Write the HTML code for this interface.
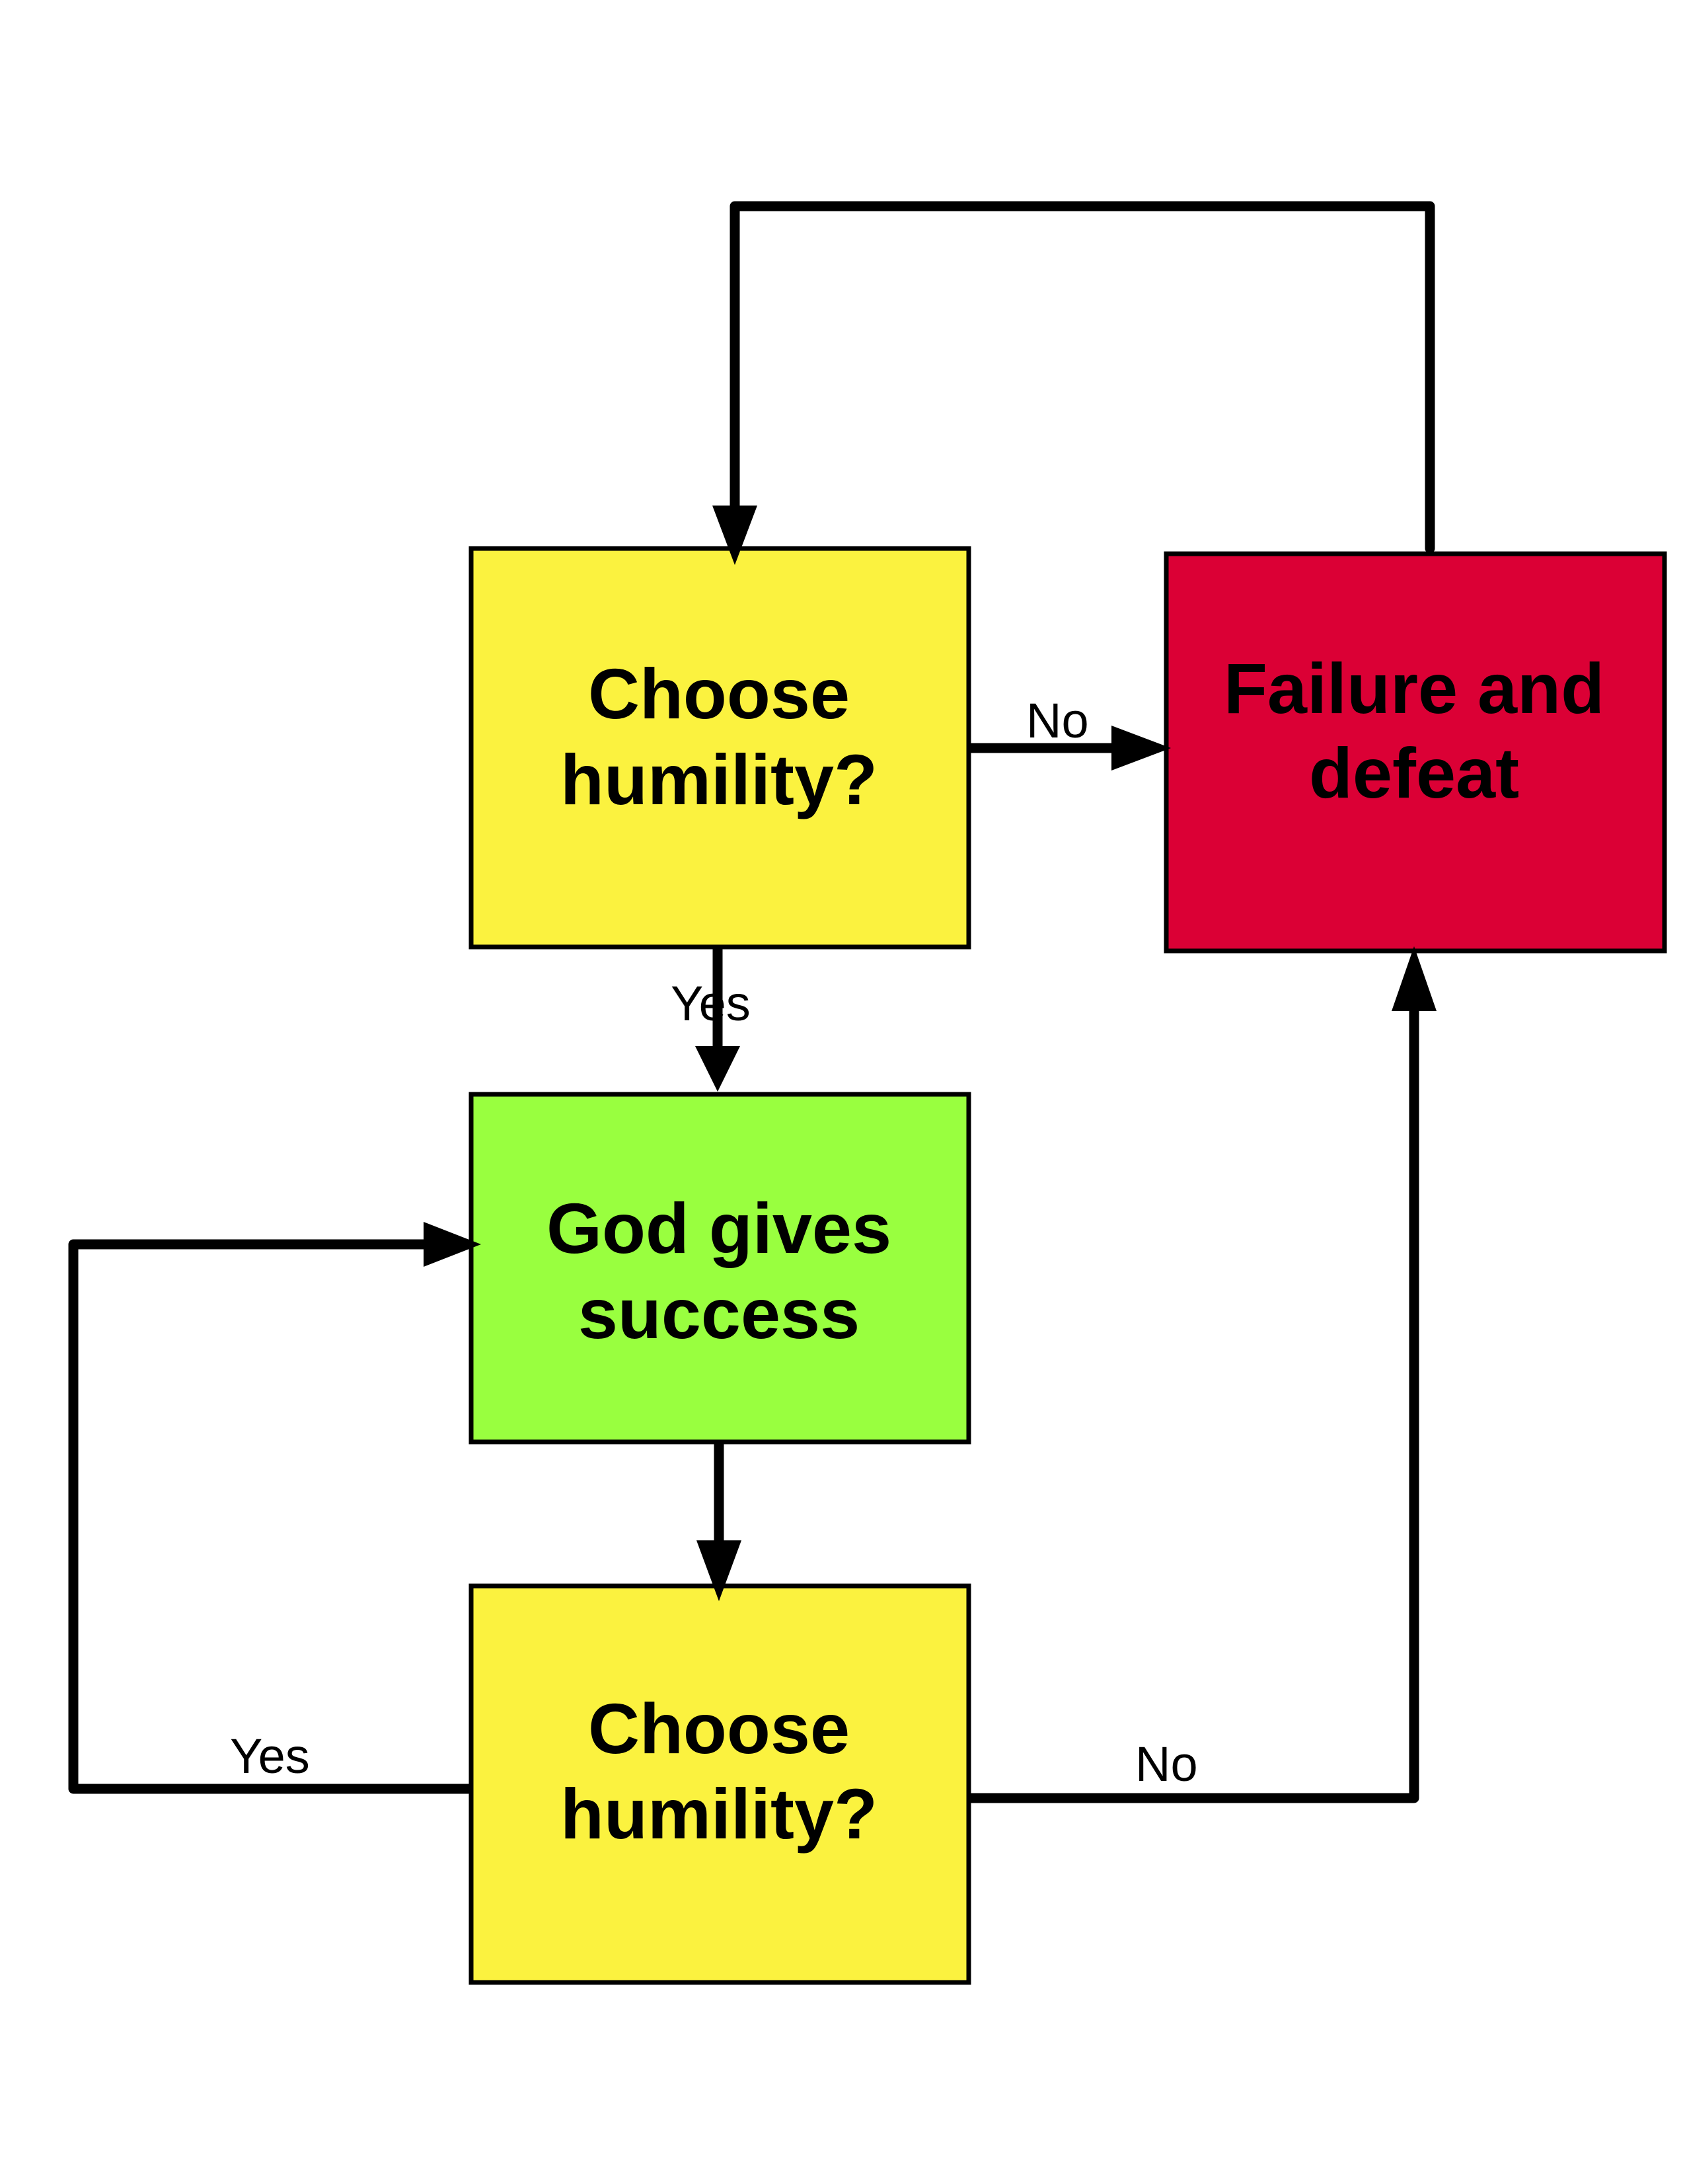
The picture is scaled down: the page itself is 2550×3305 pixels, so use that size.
<!DOCTYPE html>
<html><head><style>html,body{margin:0;padding:0;background:#fff}</style></head>
<body>
<svg width="2550" height="3300" viewBox="0 0 2550 3300" xmlns="http://www.w3.org/2000/svg">
<rect width="2550" height="3300" fill="#fff"/>
<g stroke="#000" stroke-width="7">
<rect x="713" y="830" width="753" height="603" fill="#FBF23F"/>
<rect x="1765" y="838" width="754" height="601" fill="#DB0035"/>
<rect x="713" y="1656" width="753" height="526" fill="#99FF3F"/>
<rect x="713" y="2400" width="753" height="600" fill="#FBF23F"/>
</g>
<g stroke="#000" stroke-width="15" fill="none" stroke-linecap="round" stroke-linejoin="round">
<polyline points="2164,830 2164,312 1112,312 1112,770"/>
<line x1="1470" y1="1132" x2="1684" y2="1132"/>
<line x1="1086" y1="1437" x2="1086" y2="1585"/>
<line x1="1088" y1="2186" x2="1088" y2="2333"/>
<polyline points="709,2707 111,2707 111,1883 645,1883"/>
<polyline points="1470,2721 2140,2721 2140,1530"/>
</g>
<g fill="#000">
<polygon points="1078,765 1146,765 1112,855"/>
<polygon points="1682,1098 1682,1166 1772,1132"/>
<polygon points="1052,1583 1120,1583 1086,1652"/>
<polygon points="1054,2331 1122,2331 1088,2423"/>
<polygon points="641,1849 641,1917 728,1883"/>
<polygon points="2106,1530 2174,1530 2140,1432"/>
</g>
<g font-family="Liberation Sans, sans-serif" font-weight="bold" font-size="108" text-anchor="middle" fill="#000">
<text x="1088" y="1087">Choose</text>
<text x="1088" y="1217">humility?</text>
<text x="2140" y="1079">Failure and</text>
<text x="2140" y="1207">defeat</text>
<text x="1088" y="1896">God gives</text>
<text x="1088" y="2025">success</text>
<text x="1088" y="2653">Choose</text>
<text x="1088" y="2782">humility?</text>
</g>
<g font-family="Liberation Sans, sans-serif" font-size="74" fill="#000">
<text x="1553" y="1116">No</text>
<text x="1015" y="1544">Yes</text>
<text x="348" y="2683">Yes</text>
<text x="1718" y="2695">No</text>
</g>
</svg>
</body></html>
